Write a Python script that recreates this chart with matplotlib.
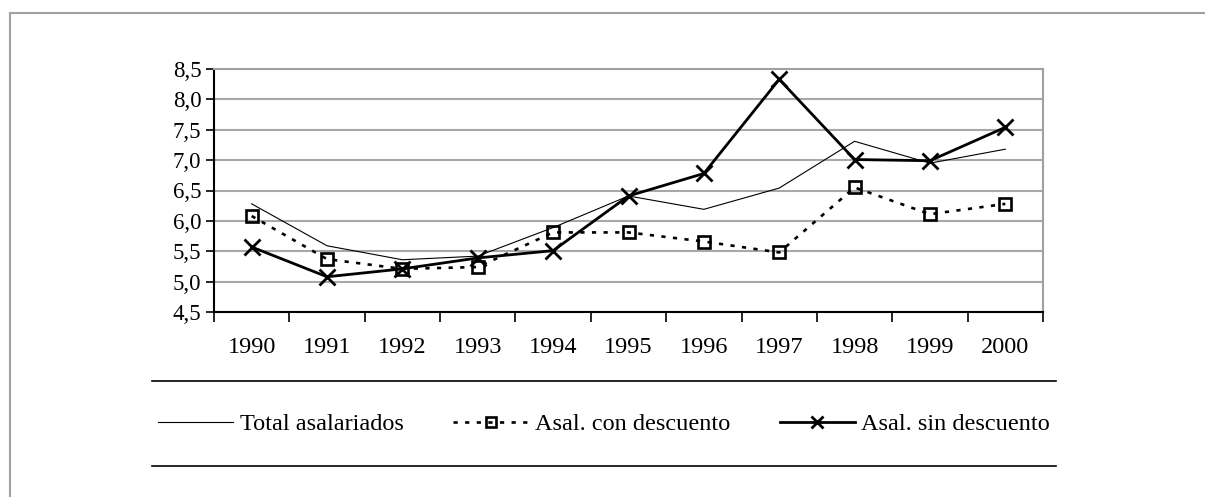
import matplotlib
matplotlib.use("Agg")
import matplotlib.pyplot as plt
from matplotlib.lines import Line2D
from matplotlib.ticker import FuncFormatter, FixedLocator

plt.rcParams['font.family'] = ['Liberation Serif', 'DejaVu Serif']

years = ['1990', '1991', '1992', '1993', '1994', '1995', '1996', '1997', '1998', '1999', '2000']
total = [6.28, 5.59, 5.36, 5.42, 5.89, 6.41, 6.19, 6.54, 7.31, 6.95, 7.18]
con_desc = [6.08, 5.37, 5.21, 5.24, 5.81, 5.81, 5.66, 5.48, 6.55, 6.11, 6.28]
sin_desc = [5.57, 5.08, 5.21, 5.39, 5.51, 6.41, 6.78, 8.33, 7.01, 6.99, 7.54]

W, H = 1205, 497
fig = plt.figure(figsize=(W / 100, H / 100), dpi=100)
ax = fig.add_axes([214 / W, 1 - 312 / H, (1043 - 214) / W, (312 - 69) / H])

x = list(range(len(years)))
ax.plot(x, total, color='black', lw=0.8, label='Total asalariados', zorder=3)
ax.plot(x, con_desc, color='black', lw=1.9, dashes=(1.6, 2.8), dash_capstyle='butt',
        marker='s', ms=9, mew=1.9, mfc='none', mec='black', label='Asal. con descuento', zorder=4)
ax.plot(x, sin_desc, color='black', lw=2.0, marker='x', ms=11, mew=2.0,
        label='Asal. sin descuento', zorder=5)

ax.set_xlim(-0.5, len(years) - 0.5)
ax.set_ylim(4.5, 8.5)
ax.set_yticks([4.5 + 0.5 * i for i in range(9)])
ax.yaxis.set_major_formatter(FuncFormatter(lambda v, p: f"{v:.1f}".replace('.', ',')))
ax.set_xticks(x)
ax.set_xticklabels(years)
ax.xaxis.set_minor_locator(FixedLocator([i - 0.5 for i in range(len(years) + 1)]))
ax.tick_params(axis='x', which='major', length=0, labelsize=17.5, pad=18)
ax.tick_params(axis='x', which='minor', length=7, width=1.2, direction='out')
ax.tick_params(axis='y', length=6, width=1.2, labelsize=16.5, pad=3)

ax.grid(axis='y', color='#a8a8a8', lw=1.5, zorder=1)
for s in ['left', 'bottom']:
    ax.spines[s].set_linewidth(1.5)
    ax.spines[s].set_color('black')
for s in ['top', 'right']:
    ax.spines[s].set_linewidth(1.5)
    ax.spines[s].set_color('#a0a0a0')

# legend between two rules
leg = fig.legend(loc='center', bbox_to_anchor=(604 / W, 1 - 424 / H), ncol=3, frameon=False,
                 fontsize=17.5, handlelength=3.1, handletextpad=0.25, columnspacing=2.05,
                 markerscale=0.75)
for yy in [381, 466]:
    fig.add_artist(Line2D([152 / W, 1056 / W], [1 - yy / H] * 2, color='black', lw=1.2))

# outer frame
fig.add_artist(Line2D([9.5 / W, 1], [1 - 13 / H] * 2, color='#a0a0a0', lw=1.5))
fig.add_artist(Line2D([9.5 / W, 9.5 / W], [0, 1 - 13 / H], color='#a0a0a0', lw=1.5))

fig.savefig('out.png', dpi=100)
